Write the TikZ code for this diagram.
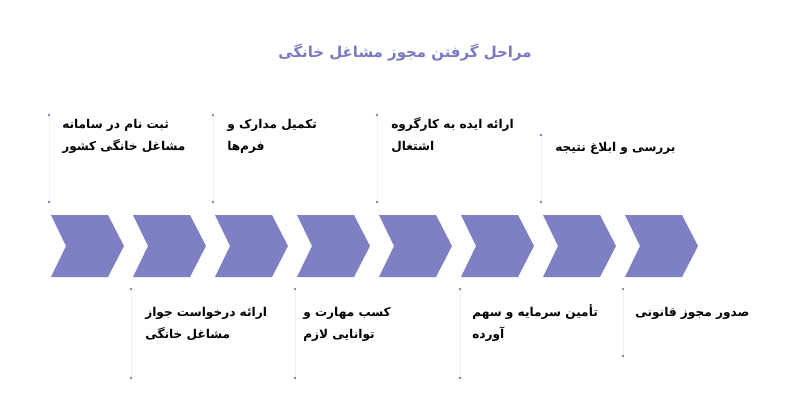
\documentclass[tikz,border=0pt]{standalone}
\usepackage{fontspec}
\newfontfamily\fa[Script=Arabic]{DejaVu Sans}
\TeXXeTstate=1
\definecolor{chev}{RGB}{127,127,196}
\definecolor{ttl}{RGB}{122,122,196}
\definecolor{dotc}{RGB}{128,128,200}
\tikzset{
  chevron/.style={fill=chev, draw=none},
  stepbox/.style={anchor=base west, inner sep=0pt, align=left, text=black,
    font=\fa\bfseries\fontsize{9.1}{16.5}\selectfont},
  titlebox/.style={inner sep=0pt, text=ttl, font=\fa\bfseries\fontsize{11.2}{14}\selectfont},
  edgeline/.style={draw=black!6, line width=0.5pt},
  dotmark/.style={fill=dotc, draw=none}
}
\begin{document}
\begin{tikzpicture}[x=0.75pt,y=-0.75pt]
\useasboundingbox (0,0) rectangle (800,401);
\fill[white] (0,0) rectangle (800,401);
% title
\node[titlebox] (title) at (405,53) {\beginR مراحل گرفتن مجوز مشاغل خانگی\endR};
% chevrons
\foreach \i/\x in {1/51,2/133,3/215,4/297,5/379,6/461,7/543,8/625}{
  \fill[chevron] (\x,215) -- ++(57,0) -- ++(16,31) -- ++(-16,31) -- ++(-57,0) -- ++(15,-31) -- cycle;
}
% box edges and dots
\foreach \x/\ya/\yb in {49/115/202,213/115/202,377/115/202,541/135/202,131/289/378,295/289/378,460/289/378,623/289/356}{
  \draw[edgeline] (\x,\ya) -- (\x,\yb);
  \fill[dotmark] (\x,\ya) circle (1.4);
  \fill[dotmark] (\x,\yb) circle (1.4);
}
% top texts (anchor = baseline of last line)
\node[stepbox] (s1) at (62,150) {\beginR ثبت نام در سامانه\endR\\\beginR مشاغل خانگی کشور\endR};
\node[stepbox] (s3) at (227,150) {\beginR تکمیل مدارک و\endR\\\beginR فرم‌ها\endR};
\node[stepbox] (s5) at (391,150) {\beginR ارائه ایده به کارگروه\endR\\\beginR اشتغال\endR};
\node[stepbox] (s7) at (555,151) {\beginR بررسی و ابلاغ نتیجه\endR};
% bottom texts
\node[stepbox] (s2) at (145,338) {\beginR ارائه درخواست جواز\endR\\\beginR مشاغل خانگی\endR};
\node[stepbox] (s4) at (303,338) {\beginR کسب مهارت و\endR\\\beginR توانایی لازم\endR};
\node[stepbox] (s6) at (472,338) {\beginR تأمین سرمایه و سهم\endR\\\beginR آورده\endR};
\node[stepbox] (s8) at (635,316) {\beginR صدور مجوز قانونی\endR};
\end{tikzpicture}
\end{document}
